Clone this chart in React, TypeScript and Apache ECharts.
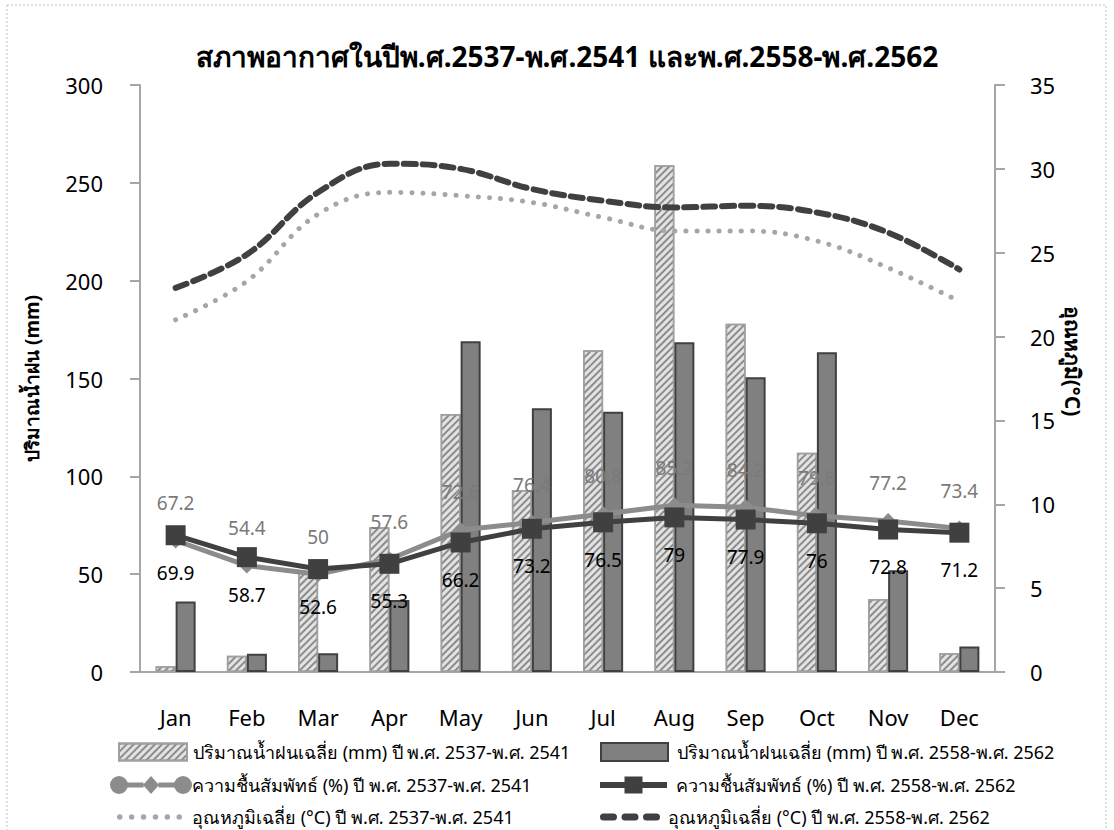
import React, { useEffect, useRef } from "react";
import * as echarts from "echarts";

const months = ["Jan", "Feb", "Mar", "Apr", "May", "Jun", "Jul", "Aug", "Sep", "Oct", "Nov", "Dec"];
const rainOld = [3, 8.3, 51, 74, 131.8, 93, 164.5, 259, 178, 112, 37.3, 9.6];
const rainNew = [36, 9.3, 9.6, 36.8, 169, 134.8, 133, 168.5, 150.7, 163.4, 52, 13];
const humOld = [67.2, 54.4, 50, 57.6, 72.6, 76.4, 80.8, 85.2, 84.2, 79.8, 77.2, 73.4];
const humNew = [69.9, 58.7, 52.6, 55.3, 66.2, 73.2, 76.5, 79, 77.9, 76, 72.8, 71.2];
const tempOld = [21.0, 23.3, 27.3, 28.6, 28.4, 28.0, 27.1, 26.3, 26.3, 25.7, 24.1, 22.1];
const tempNew = [22.9, 24.9, 28.6, 30.3, 30.0, 28.8, 28.1, 27.7, 27.8, 27.4, 26.2, 24.0];

const names = [
  "ปริมาณน้ำฝนเฉลี่ย (mm) ปี พ.ศ. 2537-พ.ศ. 2541",
  "ปริมาณน้ำฝนเฉลี่ย (mm) ปี พ.ศ. 2558-พ.ศ. 2562",
  "ความชื้นสัมพัทธ์ (%) ปี พ.ศ. 2537-พ.ศ. 2541",
  "ความชื้นสัมพัทธ์ (%) ปี พ.ศ. 2558-พ.ศ. 2562",
  "อุณหภูมิเฉลี่ย (°C) ปี พ.ศ. 2537-พ.ศ. 2541",
  "อุณหภูมิเฉลี่ย (°C) ปี พ.ศ. 2558-พ.ศ. 2562",
];
const title = "สภาพอากาศในปีพ.ศ.2537-พ.ศ.2541 และพ.ศ.2558-พ.ศ.2562";
const leftAxisName = "ปริมาณน้ำฝน (mm)";
const rightAxisName = "อุณหภูมิ(°C)";

const FONT = "'Noto Sans', 'Open Sans', 'DejaVu Sans', sans-serif";

// legend icon shapes
const circ = (cx: number, cy: number, r: number) =>
  `M${cx - r} ${cy} A${r} ${r} 0 1 1 ${cx + r} ${cy} A${r} ${r} 0 1 1 ${cx - r} ${cy} Z`;
const rectP = (x1: number, y1: number, x2: number, y2: number) =>
  `M${x1} ${y1} H${x2} V${y2} H${x1} Z`;
const pill = (x: number, y: number, w: number, h: number) => {
  const r = h / 2;
  return `M${x + r} ${y} H${x + w - r} A${r} ${r} 0 0 1 ${x + w - r} ${y + h} H${x + r} A${r} ${r} 0 0 1 ${x + r} ${y} Z`;
};
const humOldIcon =
  "path://" +
  circ(9, 9, 9) +
  rectP(17.5, 6.5, 33.5, 11.5) +
  "M33 9 L41 0 L49 9 L41 18 Z" +
  rectP(48.5, 6.5, 64.5, 11.5) +
  circ(73, 9, 9);
const humNewIcon =
  "path://" + rectP(0, 5.5, 25, 11.5) + rectP(24.5, 0, 42.5, 17) + rectP(42, 5.5, 67, 11.5);
const dotsIcon =
  "path://" + [0, 1, 2, 3, 4, 5].map((i) => circ(2.75 + i * 11.9, 2.75, 2.75)).join("");
const dashIcon = "path://" + pill(0, 0, 17, 7) + pill(21.5, 0, 17, 7) + pill(43, 0, 17, 7);

export default function App() {
  const ref = useRef<HTMLDivElement>(null);
  useEffect(() => {
    const chart = echarts.init(ref.current!, null, { renderer: "svg" });
    const axisLineStyle = { color: "#a6a6a6", width: 2 };
    const lg = (name: string, left: number, center: number, w: number, h: number, gap: number, icon: string) => ({
      data: [{ name, icon }],
      left,
      top: center - 11,
      padding: 0,
      itemWidth: w,
      itemHeight: h,
      itemGap: 0,
      textStyle: {
        fontSize: 18,
        lineHeight: 22,
        color: "#000",
        fontFamily: FONT,
        padding: [0, 0, 0, gap - 5],
      },
    });
    chart.setOption({
      animation: false,
      textStyle: { fontFamily: FONT },
      title: {
        text: title,
        left: 562,
        textAlign: "center",
        top: 37,
        textStyle: { fontSize: 28, fontWeight: "bold", color: "#000", fontFamily: FONT },
      },
      grid: { left: 140, right: 119, top: 85, bottom: 158 },
      legend: [
        lg(names[0], 118, 752, 68, 17, 6, "rect"),
        lg(names[1], 600, 752, 67, 18, 9, "rect"),
        lg(names[2], 110, 785, 82, 18, 0, humOldIcon),
        lg(names[3], 600, 785, 67, 17, 9, humNewIcon),
        lg(names[4], 117, 817, 65, 5.5, 10, dotsIcon),
        lg(names[5], 600, 817, 60, 7, 8, dashIcon),
      ],
      xAxis: {
        type: "category",
        data: months,
        axisLine: { lineStyle: axisLineStyle },
        axisTick: { lineStyle: axisLineStyle, length: 10 },
        axisLabel: { fontSize: 22, color: "#000", margin: 34, fontFamily: FONT },
      },
      yAxis: [
        {
          type: "value",
          min: 0,
          max: 300,
          interval: 50,
          name: leftAxisName,
          nameLocation: "middle",
          nameGap: 99,
          nameRotate: 90,
          nameTextStyle: { fontSize: 19, fontWeight: "bold", color: "#000", fontFamily: FONT },
          axisLine: { show: true, lineStyle: axisLineStyle },
          axisTick: { show: true, lineStyle: axisLineStyle, length: 10 },
          axisLabel: { fontSize: 22, color: "#000", margin: 37, fontFamily: FONT },
          splitLine: { show: false },
        },
        {
          type: "value",
          min: 0,
          max: 35,
          interval: 5,
          axisLine: { show: true, lineStyle: axisLineStyle },
          axisTick: { show: true, lineStyle: axisLineStyle, length: 10 },
          axisLabel: { fontSize: 22, color: "#000", margin: 35, fontFamily: FONT },
          splitLine: { show: false },
        },
      ],
      series: [
        {
          name: names[0],
          type: "bar",
          data: rainOld,
          barWidth: 20,
          barGap: "0%",
          itemStyle: {
            color: "#e3e3e3",
            borderColor: "#a0a0a0",
            borderWidth: 1.5,
            decal: {
              symbol: "rect",
              dashArrayX: [1, 0],
              dashArrayY: [1.5, 3],
              rotation: -Math.PI / 4,
              color: "#8c8c8c",
            },
          },
          z: 1,
        },
        {
          name: names[1],
          type: "bar",
          data: rainNew,
          barWidth: 20,
          itemStyle: { color: "#808080", borderColor: "#404040", borderWidth: 2 },
          z: 1,
        },
        {
          name: names[4],
          type: "line",
          yAxisIndex: 1,
          data: tempOld,
          smooth: 0.4,
          symbol: "none",
          lineStyle: { color: "#a6a6a6", width: 5, type: [0.1, 11], cap: "round" },
          itemStyle: { color: "#a6a6a6" },
          z: 3,
        },
        {
          name: names[5],
          type: "line",
          yAxisIndex: 1,
          data: tempNew,
          smooth: 0.4,
          symbol: "none",
          lineStyle: { color: "#404040", width: 6, type: [12, 7], cap: "round" },
          itemStyle: { color: "#404040" },
          z: 3,
        },
        {
          name: names[2],
          type: "line",
          data: humOld,
          symbol: "diamond",
          symbolSize: 16,
          lineStyle: { color: "#8c8c8c", width: 5 },
          itemStyle: { color: "#8c8c8c" },
          label: {
            show: true,
            position: "top",
            distance: 20,
            fontSize: 19,
            color: "#7a7a7a",
            fontFamily: FONT,
          },
          z: 4,
        },
        {
          name: names[3],
          type: "line",
          data: humNew,
          symbol: "rect",
          symbolSize: 20,
          lineStyle: { color: "#404040", width: 5 },
          itemStyle: { color: "#404040" },
          label: {
            show: true,
            position: "bottom",
            distance: 18,
            fontSize: 19,
            color: "#000",
            fontFamily: FONT,
          },
          z: 5,
        },
      ],
      graphic: [
        {
          type: "rect",
          shape: { x: 7, y: 5, width: 1099, height: 840 },
          style: { fill: "none", stroke: "#bfbfbf", lineWidth: 1, lineDash: [2, 2] },
          silent: true,
        },
        {
          type: "text",
          x: 1073,
          y: 361,
          rotation: -Math.PI / 2,
          style: {
            text: rightAxisName,
            fontSize: 21,
            fontWeight: "bold",
            fontFamily: FONT,
            fill: "#000",
            align: "center",
            verticalAlign: "middle",
          },
          silent: true,
        },
      ],
    });
    return () => chart.dispose();
  }, []);
  return (
    <div
      ref={ref}
      style={{ position: "fixed", left: 0, top: 0, width: 1114, height: 830, background: "#fff" }}
    />
  );
}
